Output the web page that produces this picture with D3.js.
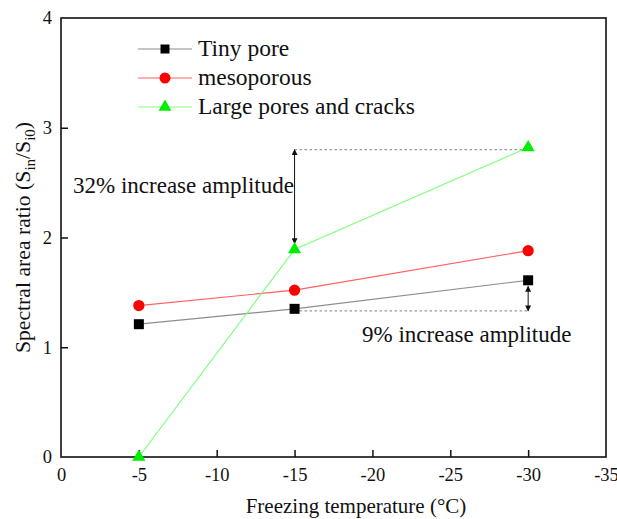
<!DOCTYPE html>
<html><head><meta charset="utf-8">
<script src="https://cdn.jsdelivr.net/npm/d3@7"></script>
<style>body{margin:0;background:#fff}svg{display:block}svg text{font-family:"Liberation Serif","Times New Roman",Times,serif;fill:#111}</style>
</head><body>
<svg id="c" width="617" height="519"></svg>
<script>
const temps = [-5, -15, -30];
const tinyPore = [1.21, 1.35, 1.61];
const mesoporous = [1.38, 1.52, 1.88];
const largePores = [0.0, 1.89, 2.82];
const seriesNames = ["Tiny pore", "mesoporous", "Large pores and cracks"];
const xTicks = [0, -5, -10, -15, -20, -25, -30, -35];
const yTicks = [0, 1, 2, 3, 4];

const FONT = "Liberation Serif";
const svg = d3.select("#c");
const L = 61, R = 606, T = 18, B = 457;
const x = d3.scaleLinear().domain([0, -35]).range([L, R]);
const y = d3.scaleLinear().domain([0, 4]).range([B, T]);
const fmt = d => String(d).replace("\u2212", "-");

// frame
svg.append("rect").attr("x", L).attr("y", T).attr("width", R - L).attr("height", B - T)
  .attr("fill", "none").attr("stroke", "#111").attr("stroke-width", 1.6);

// axes
const xAxis = svg.append("g").attr("transform", `translate(0,${B})`)
  .call(d3.axisBottom(x).tickValues(xTicks).tickSize(-7).tickPadding(11).tickFormat(fmt));
const yAxis = svg.append("g").attr("transform", `translate(${L},0)`)
  .call(d3.axisLeft(y).tickValues(yTicks).tickSize(-7).tickPadding(9).tickFormat(fmt));
[xAxis, yAxis].forEach(g => {
  g.attr("font-family", FONT);
  g.select(".domain").remove();
  g.selectAll(".tick line").attr("stroke", "#111").attr("stroke-width", 1.5);
  g.selectAll(".tick text").attr("font-size", 18.5).attr("font-family", FONT).attr("fill", "#111");
});
xAxis.selectAll(".tick").filter(d => d === 0 || d === -35).select("line").remove();
yAxis.selectAll(".tick").filter(d => d === 0 || d === 4).select("line").remove();

// axis titles
svg.append("text").attr("x", 356).attr("y", 513).attr("text-anchor", "middle")
  .attr("font-family", FONT).attr("font-size", 21).text("Freezing temperature (\u00B0C)");
const yl = svg.append("text").attr("transform", `translate(30,${(T + B) / 2}) rotate(-90)`)
  .attr("text-anchor", "middle").attr("font-family", FONT).attr("font-size", 21.7);
yl.append("tspan").text("Spectral area ratio (S");
yl.append("tspan").attr("font-size", 15).attr("dy", 5).text("in");
yl.append("tspan").attr("dy", -5).text("/S");
yl.append("tspan").attr("font-size", 15).attr("dy", 5).text("i0");
yl.append("tspan").attr("dy", -5).text(")");

// annotations
const defs = svg.append("defs");
defs.append("marker").attr("id", "ah").attr("viewBox", "0 0 10 10").attr("refX", 9).attr("refY", 5)
  .attr("markerWidth", 8).attr("markerHeight", 6).attr("orient", "auto-start-reverse")
  .attr("markerUnits", "userSpaceOnUse")
  .append("path").attr("d", "M0,0 L10,5 L0,10 z").attr("fill", "#111");

const ann = svg.append("g");
const topY = y(largePores[2] - 0.02);
ann.append("line").attr("x1", x(-15)).attr("x2", x(-30)).attr("y1", topY).attr("y2", topY)
  .attr("stroke", "#999").attr("stroke-width", 1.2).attr("stroke-dasharray", "2.5,2.5");
ann.append("line").attr("x1", x(-15)).attr("x2", x(-15)).attr("y1", topY).attr("y2", y(largePores[1]) - 6)
  .attr("stroke", "#111").attr("stroke-width", 1)
  .attr("marker-start", "url(#ah)").attr("marker-end", "url(#ah)");
ann.append("text").attr("x", 73).attr("y", 193).attr("font-family", FONT).attr("font-size", 23).text("32% increase amplitude");

const lowY = y(tinyPore[1]) + 2;
ann.append("line").attr("x1", x(-15) + 5).attr("x2", x(-30)).attr("y1", lowY).attr("y2", lowY)
  .attr("stroke", "#999").attr("stroke-width", 1.2).attr("stroke-dasharray", "2.5,2.5");
ann.append("line").attr("x1", x(-30)).attr("x2", x(-30)).attr("y1", y(tinyPore[2]) + 6).attr("y2", lowY)
  .attr("stroke", "#111").attr("stroke-width", 1)
  .attr("marker-start", "url(#ah)").attr("marker-end", "url(#ah)");
ann.append("text").attr("x", 362).attr("y", 342).attr("font-family", FONT).attr("font-size", 23).text("9% increase amplitude");

// series
const series = [
  {name: seriesNames[0], vals: tinyPore, line: "#8c8c8c", fill: "#000", shape: d3.symbolSquare, size: 100, lsize: 81},
  {name: seriesNames[1], vals: mesoporous, line: "#ff6060", fill: "#ff0000", shape: d3.symbolCircle, size: 100, lsize: 95},
  {name: seriesNames[2], vals: largePores, line: "#80ff80", fill: "#00ee00", shape: d3.symbolTriangle, size: 75, lsize: 72}
];
const line = d3.line().x((d, i) => x(temps[i])).y(d => y(d));
series.forEach(s => {
  svg.append("path").datum(s.vals).attr("d", line).attr("fill", "none")
    .attr("stroke", s.line).attr("stroke-width", 1.2);
  svg.selectAll(null).data(s.vals).enter().append("path")
    .attr("transform", (d, i) => `translate(${x(temps[i])},${y(d)})`)
    .attr("d", d3.symbol().type(s.shape).size(s.size)).attr("fill", s.fill);
});

// legend
const lg = svg.append("g");
series.forEach((s, i) => {
  const yy = 49 + i * 29;
  lg.append("line").attr("x1", 138).attr("x2", 192).attr("y1", yy).attr("y2", yy)
    .attr("stroke", s.line).attr("stroke-width", 1.2);
  lg.append("path").attr("transform", `translate(165,${yy})`)
    .attr("d", d3.symbol().type(s.shape).size(s.lsize)).attr("fill", s.fill);
  lg.append("text").attr("x", 198).attr("y", yy + 7).attr("font-family", FONT).attr("font-size", 23.5).text(s.name);
});
</script>
</body></html>
